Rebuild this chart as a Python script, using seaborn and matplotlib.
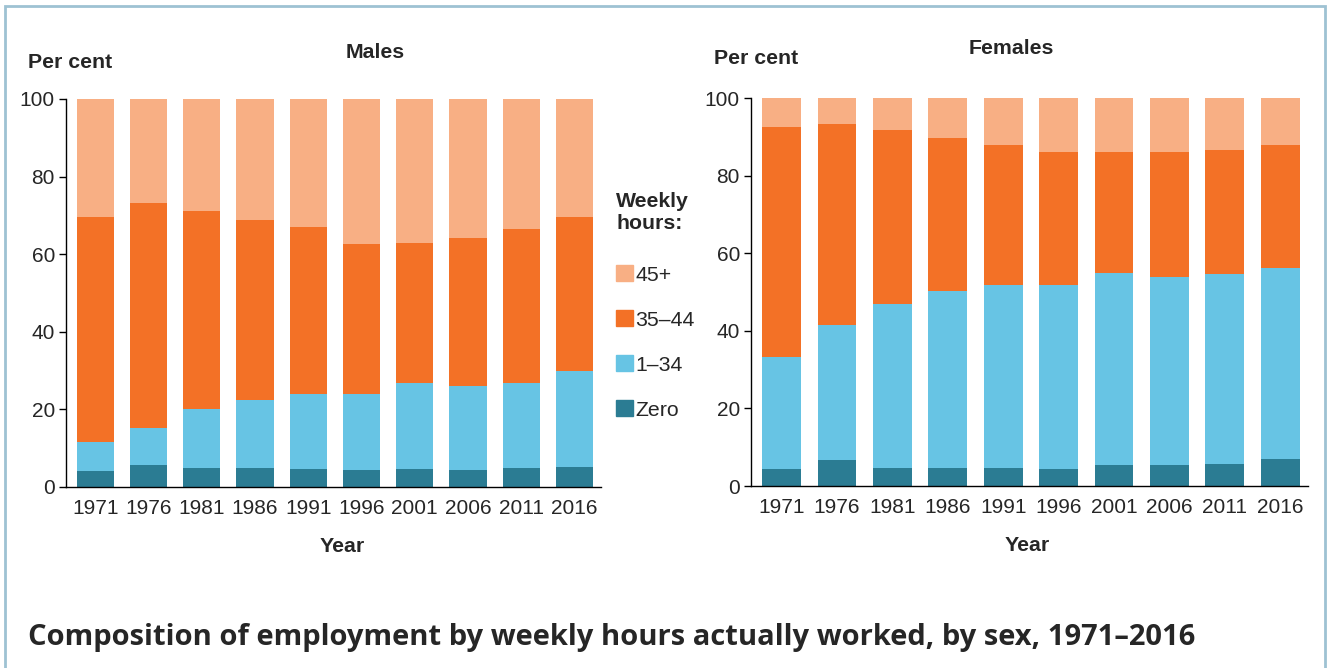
import numpy as np
import pandas as pd
import matplotlib
matplotlib.use("Agg")
import matplotlib.pyplot as plt
import matplotlib.patches as patches
import seaborn as sns

# Datos (porcentajes)
years = ["1971", "1976", "1981", "1986", "1991", "1996", "2001", "2006", "2011", "2016"]
series = ["Zero", "1–34", "35–44", "45+"]

males_zero = [4.1, 5.6, 4.9, 4.9, 4.6, 4.4, 4.6, 4.4, 4.9, 5.2]
males_1_34 = [7.5, 9.5, 15.1, 17.6, 19.4, 19.6, 22.1, 21.6, 21.8, 24.8]
males_35_44 = [58.1, 58.2, 51.2, 46.3, 43.0, 38.7, 36.3, 38.1, 39.8, 39.7]
males_45 = [30.3, 26.7, 28.8, 31.2, 33.0, 37.3, 37.0, 35.9, 33.5, 30.3]

females_zero = [4.4, 6.7, 4.7, 4.7, 4.7, 4.4, 5.3, 5.3, 5.7, 7.0]
females_1_34 = [28.9, 34.8, 42.3, 45.6, 47.1, 47.4, 49.6, 48.6, 48.9, 49.2]
females_35_44 = [59.1, 51.7, 44.7, 39.5, 36.2, 34.2, 31.1, 32.1, 32.1, 31.8]
females_45 = [7.6, 6.8, 8.3, 10.2, 12.0, 14.0, 14.0, 14.0, 13.3, 12.0]

colores = {"Zero": "#2B7C93", "1–34": "#67C4E4", "35–44": "#F37126", "45+": "#F8AF84"}

sns.set_style("white")
plt.rcParams["font.family"] = ["Liberation Sans", "DejaVu Sans"]

fig = plt.figure(figsize=(13.3, 6.68), dpi=100)
ax_m = fig.add_axes([66 / 1330, 1 - 487 / 668, 535 / 1330, 388 / 668])
ax_f = fig.add_axes([751 / 1330, 1 - 486 / 668, 557 / 1330, 388 / 668])

TAM_NEGRITA = 15.3


def dibujar(ax, valores, x_etiqueta):
    df = pd.DataFrame(valores, index=series, columns=years).T
    acumulado = df.cumsum(axis=1)
    # dibujar de arriba hacia abajo para apilar
    for s in reversed(series):
        datos = pd.DataFrame({"year": years, "valor": acumulado[s].values})
        sns.barplot(data=datos, x="year", y="valor", color=colores[s],
                    width=0.7, saturation=1, ax=ax, linewidth=0)
    ax.set_ylim(0, 100)
    ax.set_xlim(-0.55, 9.5)
    ax.set_yticks([0, 20, 40, 60, 80, 100])
    ax.set_xlabel("Year", fontsize=TAM_NEGRITA, fontweight="bold", labelpad=13)
    ax.xaxis.set_label_coords(x_etiqueta, -0.128)
    ax.set_ylabel("")
    ax.tick_params(axis="y", left=True, length=5, width=1, labelsize=15, pad=3, color="black")
    ax.tick_params(axis="x", bottom=False, labelsize=15, pad=5)
    for lado in ["top", "right"]:
        ax.spines[lado].set_visible(False)
    for lado in ["left", "bottom"]:
        ax.spines[lado].set_color("black")
        ax.spines[lado].set_linewidth(1)


dibujar(ax_m, [males_zero, males_1_34, males_35_44, males_45], 0.517)
dibujar(ax_f, [females_zero, females_1_34, females_35_44, females_45], 0.495)

# Textos
fig.text(28 / 1330, 1 - 62 / 668, "Per cent", fontsize=TAM_NEGRITA, fontweight="bold", va="center", ha="left")
fig.text(714 / 1330, 1 - 59 / 668, "Per cent", fontsize=TAM_NEGRITA, fontweight="bold", va="center", ha="left")
fig.text(375 / 1330, 1 - 52 / 668, "Males", fontsize=TAM_NEGRITA, fontweight="bold", va="center", ha="center")
fig.text(1011 / 1330, 1 - 49 / 668, "Females", fontsize=TAM_NEGRITA, fontweight="bold", va="center", ha="center")

# Leyenda
handles = [patches.Patch(color=colores[s]) for s in reversed(series)]
leg = fig.legend(handles, list(reversed(series)), loc="upper left",
                 bbox_to_anchor=(597 / 1330, 1 - 173 / 668), frameon=False,
                 fontsize=15.3, title="Weekly\nhours:", handlelength=0.8, handleheight=0.8,
                 handletextpad=0.1, labelspacing=1.2, alignment="left")
leg.get_title().set_fontweight("bold")
leg.get_title().set_fontsize(TAM_NEGRITA)
leg._legend_box.sep = 23

# Título inferior
fig.text(28 / 1330, 1 - 637 / 668, "Composition of employment by weekly hours actually worked, by sex, 1971–2016",
         fontsize=20.95, fontweight="bold", family=["Open Sans", "DejaVu Sans"], va="center", ha="left")

# Borde
borde = patches.Rectangle((5 / 1330, -0.05), 1320 / 1330, 1.05 - 6 / 668, transform=fig.transFigure,
                          fill=False, edgecolor="#9EC2D3", linewidth=2, clip_on=False)
fig.patches.append(borde)

fig.savefig("out.png", dpi=100)
